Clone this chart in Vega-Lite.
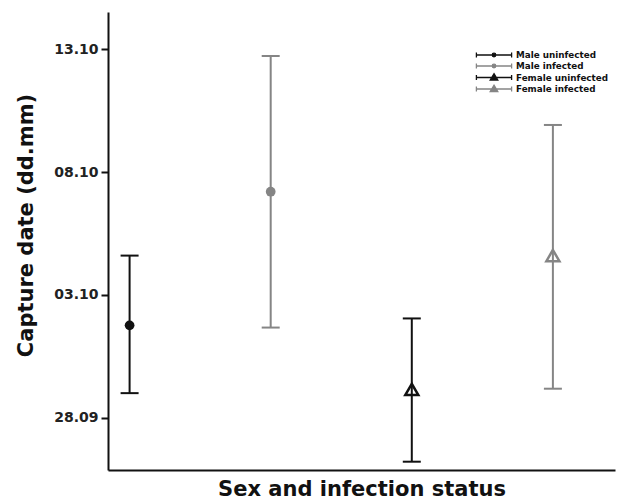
{
  "$schema": "https://vega.github.io/schema/vega-lite/v6.json",
  "width": 507,
  "height": 458,
  "autosize": {"type": "none"},
  "padding": {"left": 108, "top": 12, "right": 4, "bottom": 32},
  "background": "white",
  "config": {
    "view": {"stroke": null},
    "font": "DejaVu Sans",
    "axis": {
      "grid": false,
      "domainColor": "#111111",
      "domainWidth": 2,
      "tickColor": "#111111",
      "tickWidth": 2,
      "labelFont": "DejaVu Sans",
      "labelFontWeight": "bold",
      "labelFontSize": 14,
      "labelColor": "#222222",
      "titleFont": "DejaVu Sans",
      "titleFontWeight": "bold",
      "titleFontSize": 21,
      "titleColor": "#111111"
    }
  },
  "data": {
    "values": [
      {"group": "Male uninfected", "mean": "2013-10-01T18:15", "lo": "2013-09-29T00:00", "hi": "2013-10-04T14:25"},
      {"group": "Male infected", "mean": "2013-10-07T04:50", "lo": "2013-10-01T16:05", "hi": "2013-10-12T17:30"},
      {"group": "Female uninfected", "mean": "2013-09-29T03:35", "lo": "2013-09-26T05:00", "hi": "2013-10-02T01:00"},
      {"group": "Female infected", "mean": "2013-10-04T14:25", "lo": "2013-09-29T04:20", "hi": "2013-10-09T22:05"}
    ]
  },
  "encoding": {
    "x": {
      "field": "group",
      "type": "nominal",
      "sort": ["Male uninfected", "Male infected", "Female uninfected", "Female infected"],
      "scale": {"type": "point", "padding": 0.2966, "align": 0.258},
      "axis": {"title": "Sex and infection status", "labels": false, "ticks": false, "titlePadding": 8}
    },
    "color": {
      "field": "group",
      "type": "nominal",
      "scale": {
        "domain": ["Male uninfected", "Male infected", "Female uninfected", "Female infected"],
        "range": ["#111111", "#858585", "#111111", "#858585"]
      },
      "legend": {
        "title": null,
        "orient": "none",
        "legendX": 381,
        "legendY": 38,
        "padding": 0,
        "labelFont": "DejaVu Sans",
        "labelFontWeight": "bold",
        "labelFontSize": 8.8,
        "labelColor": "#111111",
        "symbolSize": 64,
        "labelOffset": 17,
        "rowPadding": -1.5,
        "encode": {
          "symbols": {
            "update": {
              "shape": {"signal": "indexof(datum.value, 'Male') == 0 ? 'M-4.4,0H4.4M-4.4,-0.65V0.65M4.4,-0.65V0.65M-0.45,0A0.45,0.45 0 1,1 0.45,0A0.45,0.45 0 1,1 -0.45,0Z' : 'M-4.4,0H4.4M-4.4,-0.65V0.65M4.4,-0.65V0.65M0,-0.95L0.95,0.65L-0.95,0.65Z'"},
              "stroke": {"signal": "indexof(datum.value, 'uninfected') >= 0 ? '#111111' : '#8a8a8a'"},
              "fill": {"signal": "indexof(datum.value, 'Male') == 0 ? (indexof(datum.value, 'uninfected') >= 0 ? '#111111' : '#8a8a8a') : 'transparent'"},
              "strokeWidth": {"value": 1.3},
              "opacity": {"value": 1}
            }
          }
        }
      }
    }
  },
  "layer": [
    {
      "mark": {"type": "rule", "strokeWidth": 2},
      "encoding": {
        "y": {
          "field": "lo",
          "type": "temporal",
          "title": "Capture date (dd.mm)",
          "scale": {"domain": [{"year": 2013, "month": 9, "date": 25, "hours": 20, "minutes": 53}, {"year": 2013, "month": 10, "date": 14, "hours": 12, "minutes": 29}], "nice": false},
          "axis": {
            "format": "%d.%m",
            "values": [{"year": 2013, "month": 9, "date": 28}, {"year": 2013, "month": 10, "date": 3}, {"year": 2013, "month": 10, "date": 8}, {"year": 2013, "month": 10, "date": 13}],
            "tickSize": 7,
            "labelPadding": 3,
            "titlePadding": 17,
            "titleY": 213
          }
        },
        "y2": {"field": "hi"}
      }
    },
    {
      "mark": {"type": "tick", "orient": "horizontal", "size": 18, "thickness": 2, "opacity": 1},
      "encoding": {"y": {"field": "lo", "type": "temporal", "title": "Capture date (dd.mm)"}}
    },
    {
      "mark": {"type": "tick", "orient": "horizontal", "size": 18, "thickness": 2, "opacity": 1},
      "encoding": {"y": {"field": "hi", "type": "temporal", "title": "Capture date (dd.mm)"}}
    },
    {
      "transform": [{"filter": "indexof(datum.group, 'Male') == 0"}],
      "mark": {"type": "point", "filled": true, "shape": "circle", "size": 95, "opacity": 1},
      "encoding": {"y": {"field": "mean", "type": "temporal", "title": "Capture date (dd.mm)"}}
    },
    {
      "transform": [{"filter": "indexof(datum.group, 'Female') == 0"}],
      "mark": {"type": "point", "filled": false, "shape": "triangle-up", "size": 170, "strokeWidth": 2.5, "opacity": 1},
      "encoding": {"y": {"field": "mean", "type": "temporal", "title": "Capture date (dd.mm)"}}
    }
  ]
}
